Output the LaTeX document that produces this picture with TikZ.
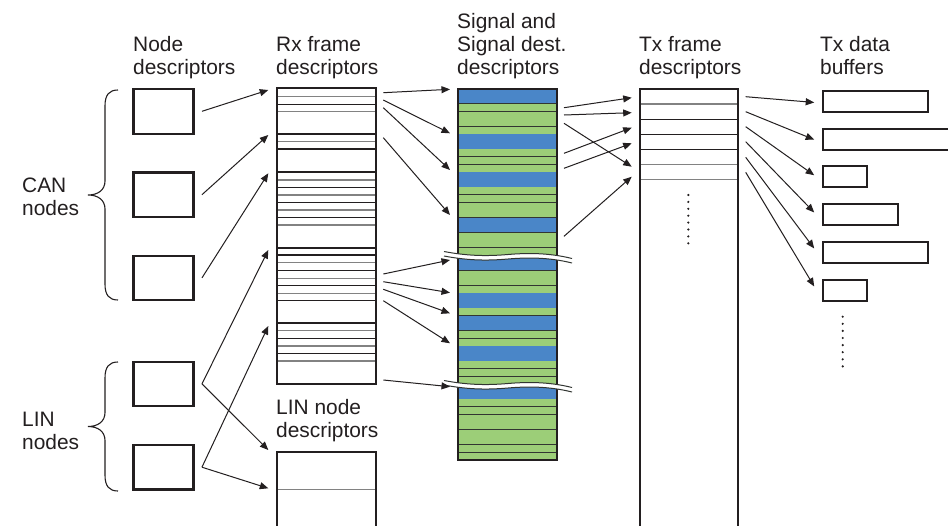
\documentclass[tikz,border=0pt]{standalone}
\usepackage{fontspec}
\setmainfont{Liberation Sans}
\usetikzlibrary{arrows.meta}
\definecolor{ink}{RGB}{35,31,32}
\definecolor{rulegray}{RGB}{130,130,130}
\definecolor{sblue}{RGB}{74,134,200}
\definecolor{sgreen}{RGB}{156,206,120}
\definecolor{sline}{RGB}{50,54,50}
\begin{document}
\begin{tikzpicture}[x=1pt,y=-1pt,
  lbl/.style={anchor=north west,inner sep=0pt,align=left,text=ink,font=\fontsize{20.9}{23}\selectfont},
  box/.style={draw=ink,line width=2.1pt,inner sep=0pt,minimum width=60pt,minimum height=44.5pt},
  buf/.style={draw=ink,line width=2.1pt,inner sep=0pt,minimum height=21pt,anchor=north west},
  arr/.style={draw=ink,line width=1pt,-{Triangle[length=8.5pt,width=7pt]}},
  frame/.style={draw=ink,line width=2.2pt},
  thinline/.style={line width=1.1pt},
  brace/.style={draw=ink,line width=1.1pt}]

\useasboundingbox (0,0) rectangle (948,525);
\fill[white] (0,0) rectangle (948,525);
\clip (0,0) rectangle (948,525);

% ---- column headings ----
\node[lbl] (hNode) at (133,35.7) {Node\\descriptors};
\node[lbl] (hRx)   at (276,35.7) {Rx frame\\descriptors};
\node[lbl] (hSig)  at (457,12.7) {Signal and\\Signal dest.\\descriptors};
\node[lbl] (hTx)   at (639,35.7) {Tx frame\\descriptors};
\node[lbl] (hBuf)  at (820,35.7) {Tx data\\buffers};
\node[lbl] (hCAN)  at (22,178)   {CAN\\nodes};
\node[lbl] (hLIN)  at (22,412)   {LIN\\nodes};
\node[lbl] (hLd)   at (276,398.7) {LIN node\\descriptors};

% ---- node descriptors ----
\node[box] (nd1) at (163.5,111.3) {};
\node[box] (nd2) at (163.5,194.7) {};
\node[box] (nd3) at (163.5,277.9) {};
\node[box] (ln1) at (163.5,383.9) {};
\node[box] (ln2) at (163.5,467.2) {};

% braces grouping CAN and LIN nodes
\draw[brace] (118,90) .. controls (109,90) and (105,95) .. (105,106) -- (105,181)
  .. controls (105,190) and (98,195) .. (88,195)
  .. controls (98,195) and (105,200) .. (105,209) -- (105,284)
  .. controls (105,295) and (109,300) .. (118,300);
\draw[brace] (118,362) .. controls (109,362) and (105,367) .. (105,378) -- (105,412.5)
  .. controls (105,421.5) and (98,426.5) .. (88,426.5)
  .. controls (98,426.5) and (105,431.5) .. (105,440.5) -- (105,475)
  .. controls (105,486) and (109,491) .. (118,491);

% ---- Rx frame descriptors ----
\foreach \y in {96.7,111.7,141.7,180,195,210,225,262.7,278.3,293.3,330.7,346,361}
  \draw[rulegray,thinline] (277,\y) -- (376,\y);
\foreach \y in {104.3,149,187.3,202.3,217.7,255,270.7,285.7,300.7,338.3,353.3}
  \draw[ink,thinline] (277,\y) -- (376,\y);
\foreach \y in {134.3,172,248.3,323}
  \draw[frame] (277,\y) -- (376,\y);
\draw[frame] (277,88.3) rectangle (376,384);

% ---- LIN node descriptors (open at the bottom) ----
\draw[rulegray,thinline] (277,489.3) -- (376,489.3);
\draw[frame] (277,530) -- (277,451.7) -- (376,451.7) -- (376,530);

% ---- signal / signal destination descriptors ----
\foreach \a/\b/\c in {
  89.3/104/sblue, 104/111.7/sgreen, 111.7/119.3/sgreen, 119.3/126.8/sgreen, 126.8/134.3/sgreen,
  134.3/149.3/sblue, 149.3/157/sgreen, 157/164.7/sgreen, 164.7/172.3/sgreen,
  172.3/187.3/sblue, 187.3/195/sgreen, 195/202.6/sgreen, 202.6/210.3/sgreen, 210.3/217.9/sgreen,
  217.9/232.7/sblue, 232.7/240.3/sgreen, 240.3/247.9/sgreen, 247.9/256/sgreen,
  256/270.7/sblue, 270.7/278.2/sgreen, 278.2/285.8/sgreen, 285.8/293.3/sgreen,
  293.3/308.3/sblue, 308.3/316/sgreen,
  316/331/sblue, 331/338.7/sgreen, 338.7/346.3/sgreen,
  346.3/361.3/sblue, 361.3/368.9/sgreen, 368.9/376.5/sgreen, 376.5/385/sgreen,
  385/399.3/sblue, 399.3/406.9/sgreen, 406.9/414.5/sgreen, 414.5/422.1/sgreen, 422.1/429.7/sgreen,
  429.7/437.3/sgreen, 437.3/444.9/sgreen, 444.9/452.5/sgreen, 452.5/460/sgreen}
{
  \fill[fill=\c] (458.3,\a) rectangle (556.7,\b);
  \draw[sline,line width=1.1pt] (458.3,\b) -- (556.7,\b);
}
\draw[frame] (458.3,89.3) rectangle (556.7,460);

% break marks across the signal column
\foreach \s in {0,129}{
  \begin{scope}[shift={(0,\s)}]
    \fill[white] (444,251.5) .. controls (470,256.5) and (490,256) .. (508,254.5)
      .. controls (526,253) and (548,252.5) .. (572,258.5)
      -- (572,263) .. controls (548,257) and (526,257.5) .. (508,259)
      .. controls (490,260.5) and (470,261) .. (444,256) -- cycle;
    \draw[sline,line width=1pt] (444,251.5) .. controls (470,256.5) and (490,256) .. (508,254.5)
      .. controls (526,253) and (548,252.5) .. (572,258.5);
    \draw[sline,line width=1pt] (444,256) .. controls (470,261) and (490,260.5) .. (508,259)
      .. controls (526,257.5) and (548,257) .. (572,263);
  \end{scope}
}

% ---- Tx frame descriptors (open at the bottom) ----
\foreach \y in {104,164.7,179.3}
  \draw[rulegray,thinline] (640,\y) -- (737.7,\y);
\foreach \y in {119.3,134.3,149.3}
  \draw[ink,thinline] (640,\y) -- (737.7,\y);
\draw[frame] (640,530) -- (640,89) -- (737.7,89) -- (737.7,530);
\foreach \i in {0,...,7}
  \fill[ink] (688.3,195+6.9*\i) circle (1.2);

% ---- Tx data buffers ----
\node[buf,minimum width=105pt] (b1) at (821.6,89.9)  {};
\node[buf,minimum width=140pt] (b2) at (821.6,127.6) {};
\node[buf,minimum width=44.5pt] (b3) at (821.6,165.2) {};
\node[buf,minimum width=75pt]  (b4) at (821.6,202.9) {};
\node[buf,minimum width=105pt] (b5) at (821.6,240.9) {};
\node[buf,minimum width=44.5pt] (b6) at (821.6,278.9) {};
\foreach \i in {0,...,7}
  \fill[ink] (842.7,316.7+7.1*\i) circle (1.2);

% ---- connector end points ----
\coordinate (rxIn1) at (268.3,90);
\coordinate (rxIn2) at (268.3,135);
\coordinate (rxIn3) at (268.3,173.3);
\coordinate (rxIn4) at (268.3,250);
\coordinate (rxIn5) at (268.3,326);
\coordinate (ldIn1) at (268.3,450);
\coordinate (ldIn2) at (268.3,488.3);

\coordinate (rxOut1) at (383.3,92.7);
\coordinate (rxOut2) at (383.3,100);
\coordinate (rxOut3) at (383.3,107.7);
\coordinate (rxOut4) at (383.3,137.7);
\coordinate (rxOut5) at (383.3,274);
\coordinate (rxOut6) at (383.3,281.7);
\coordinate (rxOut7) at (383.3,289.3);
\coordinate (rxOut8) at (383.3,300.7);
\coordinate (rxOut9) at (383.3,380);

\coordinate (sgIn1) at (450,89.3);
\coordinate (sgIn2) at (450,133.3);
\coordinate (sgIn3) at (450,170);
\coordinate (sgIn4) at (450,215);
\coordinate (sgIn5) at (450,260);
\coordinate (sgIn6) at (450,292.7);
\coordinate (sgIn7) at (450,313.3);
\coordinate (sgIn8) at (450,343.3);
\coordinate (sgIn9) at (450,386.7);

\coordinate (sgOut1) at (564,107.7);
\coordinate (sgOut2) at (564,115);
\coordinate (sgOut3) at (564,123.3);
\coordinate (sgOut4) at (564,153.3);
\coordinate (sgOut5) at (564,168.3);
\coordinate (sgOut6) at (564,236.3);

\coordinate (txIn1) at (631.7,97.7);
\coordinate (txIn2) at (631.7,112.7);
\coordinate (txIn3) at (631.7,127.7);
\coordinate (txIn4) at (631.7,143.3);
\coordinate (txIn6) at (631.7,166.7);
\coordinate (txIn7) at (631.7,176.7);

\coordinate (txOut1) at (745.7,96.7);
\coordinate (txOut2) at (745.7,111.7);
\coordinate (txOut3) at (745.7,126.7);
\coordinate (txOut4) at (745.7,141.7);
\coordinate (txOut5) at (745.7,157.3);
\coordinate (txOut6) at (745.7,172.3);

% ---- node descriptors -> Rx frames / LIN node descriptors ----
\draw[arr] ([xshift=7.4pt]nd1.east) -- (rxIn1);
\draw[arr] ([xshift=7.4pt]nd2.east) -- (rxIn2);
\draw[arr] ([xshift=7.4pt]nd3.east) -- (rxIn3);
\draw[arr] ([xshift=7.4pt]ln1.east) -- (rxIn4);
\draw[arr] ([xshift=7.4pt]ln1.east) -- (ldIn1);
\draw[arr] ([xshift=7.4pt]ln2.east) -- (rxIn5);
\draw[arr] ([xshift=7.4pt]ln2.east) -- (ldIn2);

% ---- Rx frames -> signals ----
\foreach \i in {1,...,9}
  \draw[arr] (rxOut\i) -- (sgIn\i);

% ---- signals -> Tx frames ----
\draw[arr] (sgOut1) -- (txIn1);
\draw[arr] (sgOut2) -- (txIn2);
\draw[arr] (sgOut3) -- (txIn6);
\draw[arr] (sgOut4) -- (txIn3);
\draw[arr] (sgOut5) -- (txIn4);
\draw[arr] (sgOut6) -- (txIn7);

% ---- Tx frames -> data buffers ----
\draw[arr] (txOut1) -- ([shift={(-7.4pt,-1pt)}]b1.west);
\draw[arr] (txOut2) -- ([shift={(-7.4pt,-0.5pt)}]b2.west);
\draw[arr] (txOut3) -- ([shift={(-7.4pt,1.5pt)}]b3.west);
\draw[arr] (txOut4) -- ([shift={(-7.4pt,2pt)}]b4.west);
\draw[arr] (txOut5) -- ([shift={(-7.4pt,4pt)}]b5.west);
\draw[arr] (txOut6) -- ([shift={(-7.4pt,4pt)}]b6.west);

\end{tikzpicture}
\end{document}
